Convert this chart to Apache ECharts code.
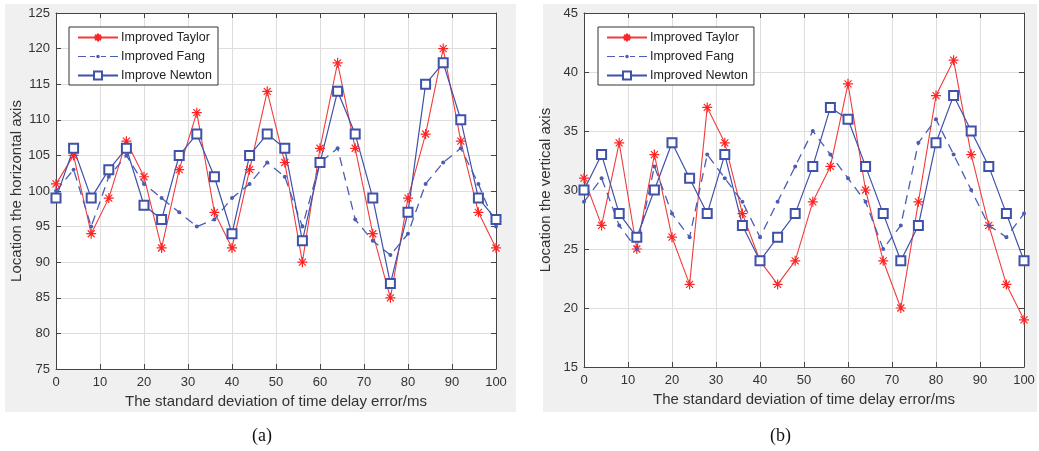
<!DOCTYPE html>
<html>
<head>
<meta charset="utf-8">
<script src="https://cdn.jsdelivr.net/npm/echarts@6/dist/echarts.min.js"></script>
<style>
html,body{margin:0;padding:0;background:#fff;}
#chart{width:1039px;height:451px;}
</style>
</head>
<body>
<div id="chart"></div>
<script>
// ---- data ----
const xs = [0,4,8,12,16,20,24,28,32,36,40,44,48,52,56,60,64,68,72,76,80,84,88,92,96,100];
const xTicks = [0,10,20,30,40,50,60,70,80,90,100];
// (a) horizontal axis
const taylorA = [101,105,94,99,107,102,92,103,111,97,92,103,114,104,90,106,118,106,94,85,99,108,120,107,97,92];
const fangA   = [100,103,95,102,105,101,99,97,95,96,99,101,104,102,95,104,106,96,93,91,94,101,104,106,101,95];
const newtonA = [99,106,99,103,106,98,96,105,108,102,94,105,108,106,93,104,114,108,99,87,97,115,118,110,99,96];
// (b) vertical axis
const taylorB = [31,27,34,25,33,26,22,37,34,28,24,22,24,29,32,39,30,24,20,29,38,41,33,27,22,19];
const fangB   = [29,31,27,25,32,28,26,33,31,29,26,29,32,35,33,31,29,25,27,34,36,33,30,27,26,28];
const newtonB = [30,33,28,26,30,34,31,28,33,27,24,26,28,32,37,36,32,28,24,27,34,38,35,32,28,24];
const namesA = ['Improved Taylor','Improved Fang','Improve Newton'];
const namesB = ['Improved Taylor','Improved Fang','Improved Newton'];

const pairs = ys => ys.map((y,i)=>[xs[i],y]);
const FONT = '"Liberation Sans", Arial, sans-serif';
const RED = '#ff2424', BLUE = '#3f51a9', BLUE2 = '#4a5cb4';
const STAR = 'path://M0,-10L0,10M-10,0L10,0M-7,-7L7,7M-7,7L7,-7';
// legend icon for the dashed series: dashes + small dot, drawn in a 40x10 box
const FANG_ICON = 'path://M0,0M40,10' +
  'M0,4.4H8V5.6H0Z M12,4.4H17V5.6H12Z M23,4.4H28V5.6H23Z M32,4.4H40V5.6H32Z' +
  'M20,3.2A1.8,1.8 0 1,1 20,6.8A1.8,1.8 0 1,1 20,3.2Z';

function mkSeries(name, ys, kind, xi, yi){
  const s = {name, type:'line', xAxisIndex:xi, yAxisIndex:yi, data:pairs(ys), animation:false};
  if(kind==='taylor'){
    Object.assign(s,{symbol:STAR, symbolSize:10, color:RED,
      itemStyle:{color:RED, borderColor:RED, borderWidth:1.2},
      lineStyle:{color:'#f23c3c', width:1.1}});
  } else if(kind==='fang'){
    Object.assign(s,{symbol:'circle', symbolSize:4, color:BLUE2,
      itemStyle:{color:BLUE2},
      lineStyle:{color:BLUE2, width:1.3, type:[9,6]}});
  } else {
    Object.assign(s,{symbol:'emptyRect', symbolSize:9, color:BLUE,
      itemStyle:{color:BLUE, borderWidth:1.1},
      lineStyle:{color:BLUE, width:1.2}});
  }
  return s;
}

function xAx(gi, pos, show){
  return {type:'value', gridIndex:gi, position:pos, min:0, max:100, interval:10,
    name: show ? 'The standard deviation of time delay error/ms' : '',
    nameLocation:'middle', nameGap:24,
    nameTextStyle:{fontFamily:FONT, fontSize:15, color:'#333'},
    axisLine:{show:true, onZero:false, lineStyle:{color:'#444', width:1}},
    axisTick:{show:true, inside:true, length:5, lineStyle:{color:'#444'}},
    axisLabel:{show:show, fontFamily:FONT, fontSize:13, color:'#333', margin:7},
    splitLine:{show:show, lineStyle:{color:'#dedede', width:1}}};
}
function yAx(gi, pos, show, mn, mx, name){
  return {type:'value', gridIndex:gi, position:pos, min:mn, max:mx, interval:5,
    name: show ? name : '', nameLocation:'middle', nameGap:31,
    nameTextStyle:{fontFamily:FONT, fontSize:15, color:'#333'},
    axisLine:{show:true, onZero:false, lineStyle:{color:'#444', width:1}},
    axisTick:{show:true, inside:true, length:5, lineStyle:{color:'#444'}},
    axisLabel:{show:show, fontFamily:FONT, fontSize:13, color:'#333', margin:6},
    splitLine:{show:show, lineStyle:{color:'#dedede', width:1}}};
}
function legend(names, left, top){
  return {data:[{name:names[0]},{name:names[1], icon:FANG_ICON, itemStyle:{borderWidth:0}},{name:names[2]}],
    orient:'vertical', left, top, itemWidth:40, itemHeight:10, itemGap:6,
    padding:[4,6,3,8], backgroundColor:'#fff', borderColor:'#333', borderWidth:1, borderRadius:0,
    textStyle:{fontFamily:FONT, fontSize:12.5, color:'#222', padding:[0,0,0,-2]}, selectedMode:false};
}

const chart = echarts.init(document.getElementById('chart'), null, {renderer:'canvas'});
chart.setOption({
  animation:false,
  backgroundColor:'#fff',
  graphic:[
    {type:'rect', left:5, top:4, shape:{width:511, height:408}, style:{fill:'#f0f0f0'}, z:-10},
    {type:'rect', left:543, top:4, shape:{width:494, height:408}, style:{fill:'#f0f0f0'}, z:-10},
    {type:'rect', left:56, top:13, shape:{width:440, height:356}, style:{fill:'#fff'}, z:-9},
    {type:'rect', left:584, top:13, shape:{width:440, height:354}, style:{fill:'#fff'}, z:-9},
    {type:'text', left:252, top:427, style:{text:'(a)', font:'18px "Liberation Serif", "Times New Roman", serif', fill:'#111'}},
    {type:'text', left:770, top:427, style:{text:'(b)', font:'18px "Liberation Serif", "Times New Roman", serif', fill:'#111'}}
  ],
  grid:[
    {left:56, top:13, width:440, height:356, containLabel:false},
    {left:584, top:13, width:440, height:354, containLabel:false}
  ],
  xAxis:[ xAx(0,'bottom',true), xAx(0,'top',false), xAx(1,'bottom',true), xAx(1,'top',false) ],
  yAxis:[
    yAx(0,'left',true,75,125,'Location the horizontal axis'), yAx(0,'right',false,75,125,''),
    yAx(1,'left',true,15,45,'Location the vertical axis'), yAx(1,'right',false,15,45,'')
  ],
  legend:[ legend(namesA, 69, 27), legend(namesB, 598, 27) ],
  series:[
    mkSeries(namesA[0], taylorA, 'taylor', 0, 0),
    mkSeries(namesA[1], fangA, 'fang', 0, 0),
    mkSeries(namesA[2], newtonA, 'newton', 0, 0),
    mkSeries(namesB[0], taylorB, 'taylor', 2, 2),
    mkSeries(namesB[1], fangB, 'fang', 2, 2),
    mkSeries(namesB[2], newtonB, 'newton', 2, 2)
  ]
});
</script>
</body>
</html>
